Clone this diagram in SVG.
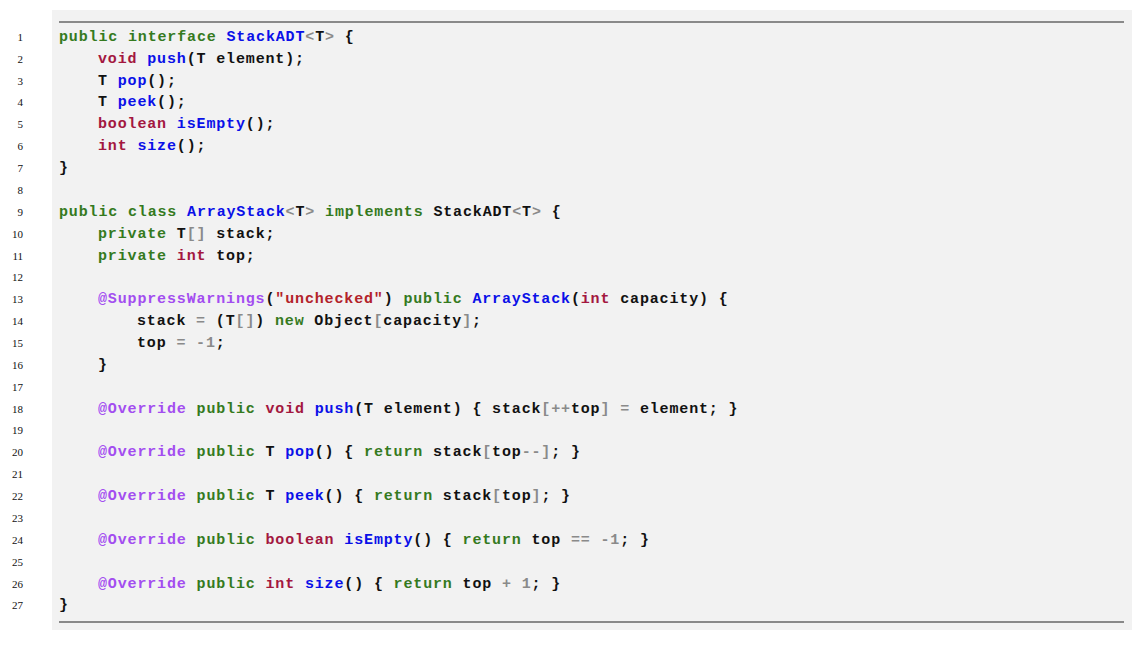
<svg xmlns="http://www.w3.org/2000/svg" width="1144" height="646" viewBox="0 0 1144 646">
<style>
.c{font-family:"Liberation Mono",monospace;font-size:15px;font-weight:bold;letter-spacing:0.85px;fill:#111}
.n{font-family:"Liberation Serif",serif;font-size:11px;fill:#111;text-anchor:end}
.k{fill:#357a1e}.t{fill:#a3173f}.f{fill:#0a10e8}.a{fill:#a34df0}.s{fill:#b3222a}.o{fill:#8a8a8a}
</style>
<rect x="52" y="10" width="1080" height="620" fill="#f2f2f2"/>
<line x1="59" y1="22" x2="1124" y2="22" stroke="#222" stroke-width="1"/>
<line x1="59" y1="622" x2="1124" y2="622" stroke="#666" stroke-width="1.5"/>
<g id="numbers">
<text class="n" x="23" y="41">1</text><text class="n" x="23" y="63">2</text><text class="n" x="23" y="85">3</text><text class="n" x="23" y="106">4</text><text class="n" x="23" y="128">5</text><text class="n" x="23" y="150">6</text><text class="n" x="23" y="172">7</text><text class="n" x="23" y="194">8</text><text class="n" x="23" y="216">9</text><text class="n" x="23" y="238">10</text><text class="n" x="23" y="260">11</text><text class="n" x="23" y="281">12</text><text class="n" x="23" y="303">13</text><text class="n" x="23" y="325">14</text><text class="n" x="23" y="347">15</text><text class="n" x="23" y="369">16</text><text class="n" x="23" y="391">17</text><text class="n" x="23" y="413">18</text><text class="n" x="23" y="434">19</text><text class="n" x="23" y="456">20</text><text class="n" x="23" y="478">21</text><text class="n" x="23" y="500">22</text><text class="n" x="23" y="522">23</text><text class="n" x="23" y="544">24</text><text class="n" x="23" y="566">25</text><text class="n" x="23" y="588">26</text><text class="n" x="23" y="609">27</text>
</g>
<g id="code" xml:space="preserve">
<text class="c" x="59" y="41"><tspan class="k">public interface</tspan> <tspan class="f">StackADT</tspan><tspan class="o">&lt;</tspan>T<tspan class="o">&gt;</tspan> {</text>
<text class="c" x="98" y="63"><tspan class="t">void</tspan> <tspan class="f">push</tspan>(T element);</text>
<text class="c" x="98" y="85">T <tspan class="f">pop</tspan>();</text>
<text class="c" x="98" y="106">T <tspan class="f">peek</tspan>();</text>
<text class="c" x="98" y="128"><tspan class="t">boolean</tspan> <tspan class="f">isEmpty</tspan>();</text>
<text class="c" x="98" y="150"><tspan class="t">int</tspan> <tspan class="f">size</tspan>();</text>
<text class="c" x="59" y="172">}</text>
<text class="c" x="59" y="216"><tspan class="k">public class</tspan> <tspan class="f">ArrayStack</tspan><tspan class="o">&lt;</tspan>T<tspan class="o">&gt;</tspan> <tspan class="k">implements</tspan> StackADT<tspan class="o">&lt;</tspan>T<tspan class="o">&gt;</tspan> {</text>
<text class="c" x="98" y="238"><tspan class="k">private</tspan> T<tspan class="o">[]</tspan> stack;</text>
<text class="c" x="98" y="260"><tspan class="k">private</tspan> <tspan class="t">int</tspan> top;</text>
<text class="c" x="98" y="303"><tspan class="a">@SuppressWarnings</tspan>(<tspan class="s">"unchecked"</tspan>) <tspan class="k">public</tspan> <tspan class="f">ArrayStack</tspan>(<tspan class="t">int</tspan> capacity) {</text>
<text class="c" x="137" y="325">stack <tspan class="o">=</tspan> (T<tspan class="o">[]</tspan>) <tspan class="k">new</tspan> Object<tspan class="o">[</tspan>capacity<tspan class="o">]</tspan>;</text>
<text class="c" x="137" y="347">top <tspan class="o">= -1</tspan>;</text>
<text class="c" x="98" y="369">}</text>
<text class="c" x="98" y="413"><tspan class="a">@Override</tspan> <tspan class="k">public</tspan> <tspan class="t">void</tspan> <tspan class="f">push</tspan>(T element) { stack<tspan class="o">[++</tspan>top<tspan class="o">]</tspan> <tspan class="o">=</tspan> element; }</text>
<text class="c" x="98" y="456"><tspan class="a">@Override</tspan> <tspan class="k">public</tspan> T <tspan class="f">pop</tspan>() { <tspan class="k">return</tspan> stack<tspan class="o">[</tspan>top<tspan class="o">--]</tspan>; }</text>
<text class="c" x="98" y="500"><tspan class="a">@Override</tspan> <tspan class="k">public</tspan> T <tspan class="f">peek</tspan>() { <tspan class="k">return</tspan> stack<tspan class="o">[</tspan>top<tspan class="o">]</tspan>; }</text>
<text class="c" x="98" y="544"><tspan class="a">@Override</tspan> <tspan class="k">public</tspan> <tspan class="t">boolean</tspan> <tspan class="f">isEmpty</tspan>() { <tspan class="k">return</tspan> top <tspan class="o">== -1</tspan>; }</text>
<text class="c" x="98" y="588"><tspan class="a">@Override</tspan> <tspan class="k">public</tspan> <tspan class="t">int</tspan> <tspan class="f">size</tspan>() { <tspan class="k">return</tspan> top <tspan class="o">+ 1</tspan>; }</text>
<text class="c" x="59" y="609">}</text>
</g>
</svg>
